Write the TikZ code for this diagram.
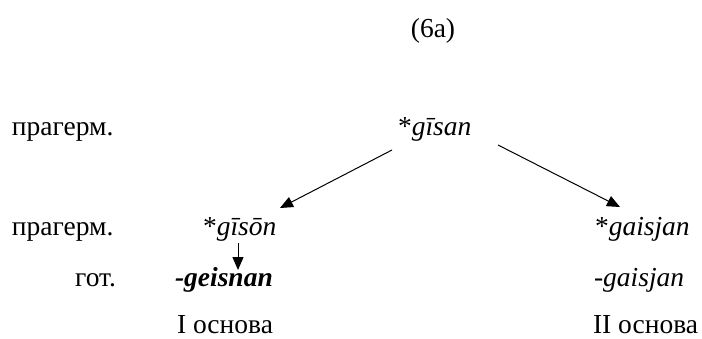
\documentclass[tikz,border=0pt]{standalone}
\usepackage{fontspec}
\setmainfont{Liberation Serif}
\usetikzlibrary{arrows.meta}
\begin{document}
\begin{tikzpicture}[x=1pt,y=-1pt,
  every node/.style={inner sep=0pt,outer sep=0pt,font=\fontsize{27.5}{33}\selectfont},
  arr/.style={line width=1pt,-{Triangle[length=13pt,width=11pt]}}]
\useasboundingbox (0,0) rectangle (702,338);
\node[anchor=base] (title) at (433,37) {(6a)};
\node[anchor=base west] (l1) at (12,135) {прагерм.};
\node[anchor=base west] (gisan) at (398,135) {*\textit{gīsan}};
\node[anchor=base west] (l2) at (12,235) {прагерм.};
\node[anchor=base west] (gison) at (203,235) {*\textit{gīsōn}};
\node[anchor=base west] (gaisjan) at (595,235) {*\textit{gaisjan}};
\node[anchor=base east] (l3) at (116,286) {гот.};
\node[anchor=base west] (geisnan) at (175,286) {\textbf{\textit{-geisnan}}};
\node[anchor=base west] (gaisjang) at (594,286) {-\textit{gaisjan}};
\node[anchor=base west] (st1) at (177,333) {I основа};
\node[anchor=base west] (st2) at (593,333) {II основа};
\coordinate (s1) at (392,150);
\coordinate (s2) at (498,145);
\draw[arr] (s1) -- (280,208) coordinate (t1);
\draw[arr] (s2) -- (620,207) coordinate (t2);
\draw[arr] (gison.south -| 238,0) ++(0,2) -- (238,270);
\end{tikzpicture}
\end{document}
